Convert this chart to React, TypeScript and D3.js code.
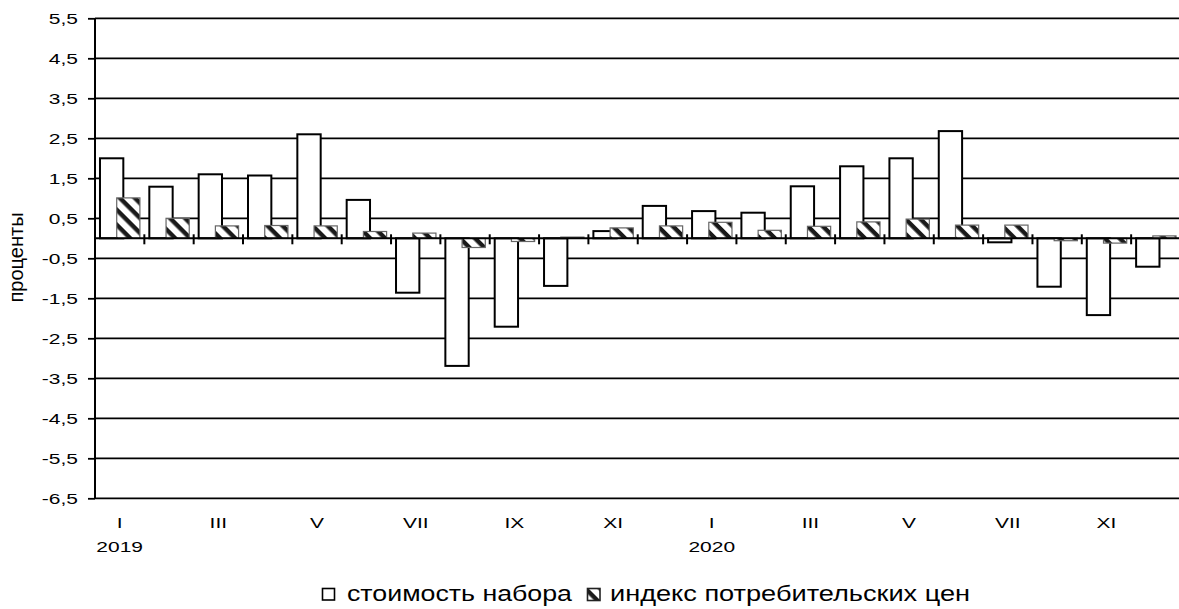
import React, { useEffect, useRef } from "react";
import * as d3 from "d3";

// months 2019-01 .. 2020-10
const categories = [
  "2019-01", "2019-02", "2019-03", "2019-04", "2019-05", "2019-06",
  "2019-07", "2019-08", "2019-09", "2019-10", "2019-11", "2019-12",
  "2020-01", "2020-02", "2020-03", "2020-04", "2020-05", "2020-06",
  "2020-07", "2020-08", "2020-09", "2020-10",
];
const monthLabels = [
  "I", "", "III", "", "V", "", "VII", "", "IX", "", "XI", "",
  "I", "", "III", "", "V", "", "VII", "", "XI", "",
];
const yearLabels = ["2019", "", "", "", "", "", "", "", "", "", "", "", "2020", "", "", "", "", "", "", "", "", ""];

const costValues = [
  2.0, 1.29, 1.6, 1.57, 2.6, 0.96, -1.36, -3.19, -2.21, -1.19, 0.18, 0.81,
  0.68, 0.64, 1.3, 1.8, 2.0, 2.68, -0.1, -1.21, -1.92, -0.71,
];
const cpiValues = [
  1.01, 0.5, 0.31, 0.32, 0.31, 0.17, 0.13, -0.23, -0.08, 0.03, 0.26, 0.31,
  0.4, 0.2, 0.3, 0.41, 0.48, 0.33, 0.33, -0.06, -0.12, 0.06,
];

const yTicks = [5.5, 4.5, 3.5, 2.5, 1.5, 0.5, -0.5, -1.5, -2.5, -3.5, -4.5, -5.5, -6.5];
const legendLabels = ["стоимость набора", "индекс потребительских цен"];

const W = 1179;
const H = 609;
const FONT = "'Liberation Sans', Arial, sans-serif";
const SX = 1.4; // text in the picture is stretched horizontally

const App = () => {
  const svgRef = useRef(null);

  useEffect(() => {
    const svg = d3.select(svgRef.current);
    svg.selectAll("*").remove();

    const left = 95;
    const x = d3
      .scaleBand()
      .domain(categories)
      .range([left, left + categories.length * 49.34]);
    const y = d3.scaleLinear().domain([-6.5, 5.5]).range([498.3, 18.3]);
    const bw = x.bandwidth();

    // hatch pattern
    const defs = svg.append("defs");
    const pat = defs
      .append("pattern")
      .attr("id", "hatch")
      .attr("patternUnits", "userSpaceOnUse")
      .attr("width", 10.6)
      .attr("height", 10.6)
      .attr("patternTransform", "rotate(45)");
    pat.append("rect").attr("width", 10.6).attr("height", 10.6).attr("fill", "#fff");
    pat.append("rect").attr("width", 10.6).attr("height", 4.4).attr("fill", "#1a1a1a");

    // grid lines
    svg
      .append("g")
      .selectAll("line")
      .data(yTicks)
      .join("line")
      .attr("x1", left)
      .attr("x2", W)
      .attr("y1", (d) => y(d))
      .attr("y2", (d) => y(d))
      .attr("stroke", "#000")
      .attr("stroke-width", 1.8);

    // y axis
    const yAxis = d3
      .axisLeft(y)
      .tickValues(yTicks)
      .tickSize(7)
      .tickPadding(5)
      .tickFormat((d) => d3.format(".1f")(d).replace(".", ",").replace("−", "-"));
    const ga = svg.append("g").attr("transform", `translate(${left},0)`).call(yAxis);
    ga.select(".domain").remove();
    ga.selectAll(".tick line").attr("stroke", "#000").attr("stroke-width", 1.8);
    ga.selectAll(".tick text")
      .attr("fill", "#000")
      .style("font-family", FONT)
      .style("font-size", "15px")
      .attr("x", -17 / SX)
      .attr("transform", `scale(${SX},1)`);
    svg
      .append("line")
      .attr("x1", left)
      .attr("x2", left)
      .attr("y1", y(5.5))
      .attr("y2", y(-6.5))
      .attr("stroke", "#000")
      .attr("stroke-width", 2);

    // bars
    const g = svg.append("g");
    g.selectAll(".cost")
      .data(costValues)
      .join("rect")
      .attr("class", "cost")
      .attr("x", (d, i) => x(categories[i]) + bw * 0.101)
      .attr("width", bw * 0.473)
      .attr("y", (d) => y(Math.max(0, d)))
      .attr("height", (d) => Math.abs(y(d) - y(0)))
      .attr("fill", "#fff")
      .attr("stroke", "#000")
      .attr("stroke-width", 2);
    g.selectAll(".cpi")
      .data(cpiValues)
      .join("rect")
      .attr("class", "cpi")
      .attr("x", (d, i) => x(categories[i]) + bw * 0.44)
      .attr("width", bw * 0.47)
      .attr("y", (d) => y(Math.max(0, d)))
      .attr("height", (d) => Math.abs(y(d) - y(0)))
      .attr("fill", "url(#hatch)")
      .attr("stroke", "#666")
      .attr("stroke-width", 1.2);

    // zero axis with cross ticks at category boundaries
    svg
      .append("line")
      .attr("x1", left)
      .attr("x2", W)
      .attr("y1", y(0))
      .attr("y2", y(0))
      .attr("stroke", "#000")
      .attr("stroke-width", 2);
    const bounds = categories.slice(1).map((c) => x(c));
    svg
      .append("g")
      .selectAll("line")
      .data(bounds)
      .join("line")
      .attr("x1", (d) => d)
      .attr("x2", (d) => d)
      .attr("y1", y(0) - 4)
      .attr("y2", y(0) + 6)
      .attr("stroke", "#000")
      .attr("stroke-width", 2);

    // category labels
    const lab = svg.append("g").style("font-family", FONT).style("font-size", "15px");
    lab
      .selectAll(".m")
      .data(monthLabels)
      .join("text")
      .attr("class", "m")
      .attr("text-anchor", "middle")
      .attr("transform", (d, i) => `translate(${x(categories[i]) + bw / 2},528) scale(${SX},1)`)
      .text((d) => d);
    lab
      .selectAll(".yr")
      .data(yearLabels)
      .join("text")
      .attr("class", "yr")
      .attr("text-anchor", "middle")
      .attr("transform", (d, i) => `translate(${x(categories[i]) + bw / 2},551.5) scale(${SX},1)`)
      .text((d) => d);

    // y title
    svg
      .append("text")
      .attr("transform", "translate(23,257.5) rotate(-90)")
      .attr("text-anchor", "middle")
      .style("font-family", FONT)
      .style("font-size", "20px")
      .text("проценты");

    // legend
    const lg = svg.append("g").style("font-family", FONT).style("font-size", "22px");
    lg.append("rect")
      .attr("x", 322.5)
      .attr("y", 588.5)
      .attr("width", 12)
      .attr("height", 11.5)
      .attr("fill", "#fff")
      .attr("stroke", "#000")
      .attr("stroke-width", 1.6);
    lg.append("text")
      .attr("x", 347)
      .attr("y", 601)
      .attr("textLength", 225)
      .attr("lengthAdjust", "spacingAndGlyphs")
      .text(legendLabels[0]);
    lg.append("rect")
      .attr("x", 587.5)
      .attr("y", 588.5)
      .attr("width", 12.5)
      .attr("height", 12)
      .attr("fill", "url(#hatch)")
      .attr("stroke", "#222")
      .attr("stroke-width", 1.6);
    lg.append("text")
      .attr("x", 610)
      .attr("y", 601)
      .attr("textLength", 360)
      .attr("lengthAdjust", "spacingAndGlyphs")
      .text(legendLabels[1]);
  }, []);

  return (
    <svg
      ref={svgRef}
      width={W}
      height={H}
      style={{ position: "absolute", left: 0, top: 0, background: "#fff" }}
    />
  );
};

export default App;
